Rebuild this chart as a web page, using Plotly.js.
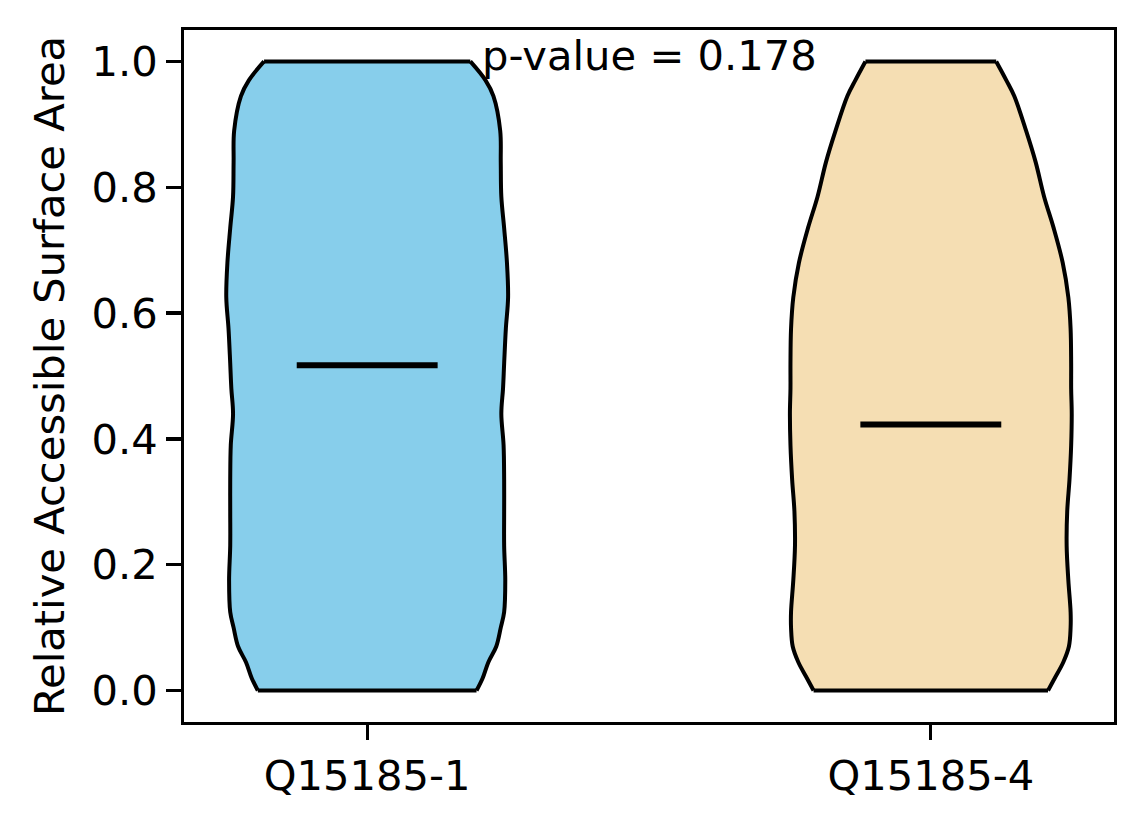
<!DOCTYPE html>
<html>
<head>
<meta charset="utf-8">
<script src="https://cdn.plot.ly/plotly-3.0.1.min.js"></script>
<style>html,body{margin:0;padding:0;background:#fff;}#chart{width:1144px;height:824px;}</style>
</head>
<body>
<div id="chart"></div>
<script>
// Categories and positions
const categories = ["Q15185-1", "Q15185-4"];
const positions = [1, 2];
// Density profile levels (RSA values) and half-widths
const yLevels = [0, 0.02, 0.045, 0.07, 0.1, 0.125, 0.175, 0.23, 0.285, 0.335, 0.39, 0.44, 0.48, 0.52, 0.575, 0.625, 0.68, 0.735, 0.785, 0.84, 0.89, 0.945, 0.97, 1.0];
const halfWidth1 = [0.194, 0.205, 0.215, 0.229, 0.237, 0.243, 0.245, 0.243, 0.243, 0.243, 0.242, 0.238, 0.241, 0.243, 0.246, 0.250, 0.248, 0.243, 0.238, 0.237, 0.236, 0.224, 0.210, 0.183];
const halfWidth2 = [0.208, 0.220, 0.235, 0.245, 0.248, 0.248, 0.244, 0.241, 0.242, 0.246, 0.249, 0.250, 0.249, 0.249, 0.248, 0.244, 0.234, 0.218, 0.201, 0.186, 0.169, 0.148, 0.134, 0.116];
const medians = [0.517, 0.423];
const medianHalfLen = 0.125;
const fillColors = ["#87CEEB", "#F5DEB3"];
const pValueText = "p-value = 0.178";
const yTickVals = [0.0, 0.2, 0.4, 0.6, 0.8, 1.0];
const yTickText = ["0.0", "0.2", "0.4", "0.6", "0.8", "1.0"];

const widths = [halfWidth1, halfWidth2];
const traces = [];
const n = yLevels.length;
positions.forEach((p, i) => {
  const hw = widths[i];
  const xs = [], ys = [];
  for (let k = 0; k < n; k++) { xs.push(p + hw[k]); ys.push(yLevels[k]); }
  for (let k = n - 1; k >= 0; k--) { xs.push(p - hw[k]); ys.push(yLevels[k]); }
  xs.push(xs[0]); ys.push(ys[0]);
  traces.push({
    type: "scatter", mode: "lines", x: xs, y: ys, fill: "toself",
    fillcolor: fillColors[i], line: {color: fillColors[i], width: 0}, hoverinfo: "skip", showlegend: false
  });
  // smooth side outlines
  traces.push({
    type: "scatter", mode: "lines", x: hw.map(w => p + w), y: yLevels,
    line: {color: "#000", width: 4, shape: "spline", smoothing: 1}, hoverinfo: "skip", showlegend: false
  });
  traces.push({
    type: "scatter", mode: "lines", x: hw.map(w => p - w), y: yLevels,
    line: {color: "#000", width: 4, shape: "spline", smoothing: 1}, hoverinfo: "skip", showlegend: false
  });
  // flat top and bottom edges
  traces.push({
    type: "scatter", mode: "lines",
    x: [p - hw[0], p + hw[0], null, p - hw[n - 1], p + hw[n - 1]],
    y: [yLevels[0], yLevels[0], null, yLevels[n - 1], yLevels[n - 1]],
    line: {color: "#000", width: 4}, hoverinfo: "skip", showlegend: false
  });
});
positions.forEach((p, i) => {
  traces.push({
    type: "scatter", mode: "lines",
    x: [p - medianHalfLen, p + medianHalfLen], y: [medians[i], medians[i]],
    line: {color: "#000", width: 6}, hoverinfo: "skip", showlegend: false
  });
});

const fontFam = "DejaVu Sans, sans-serif";
const layout = {
  width: 1144, height: 824,
  margin: {l: 184, r: 30, t: 30, b: 102, pad: 0},
  paper_bgcolor: "#fff", plot_bgcolor: "#fff",
  font: {family: fontFam, size: 41.67, color: "#000"},
  showlegend: false,
  xaxis: {
    range: [0.675, 2.325], tickvals: positions, ticktext: categories,
    showline: true, mirror: true, linecolor: "#000", linewidth: 3.3,
    ticks: "outside", ticklen: 14.6, tickwidth: 3.3, tickcolor: "#000",
    showgrid: false, zeroline: false, tickfont: {size: 41.67}
  },
  yaxis: {
    range: [-0.05, 1.05], tickvals: yTickVals, ticktext: yTickText,
    showline: true, mirror: true, linecolor: "#000", linewidth: 3.3,
    ticks: "outside", ticklen: 14.6, tickwidth: 3.3, tickcolor: "#000",
    showgrid: false, zeroline: false, tickfont: {size: 41.67},
    title: {text: "Relative Accessible Surface Area", font: {size: 41.67}, standoff: 15}
  },
  annotations: [{
    x: 1.5, y: 1.009, xref: "x", yref: "y", text: pValueText, showarrow: false,
    xanchor: "center", yanchor: "middle", font: {size: 41.67, color: "#000"}
  }]
};
Plotly.newPlot("chart", traces, layout, {staticPlot: true, displayModeBar: false});
</script>
</body>
</html>
